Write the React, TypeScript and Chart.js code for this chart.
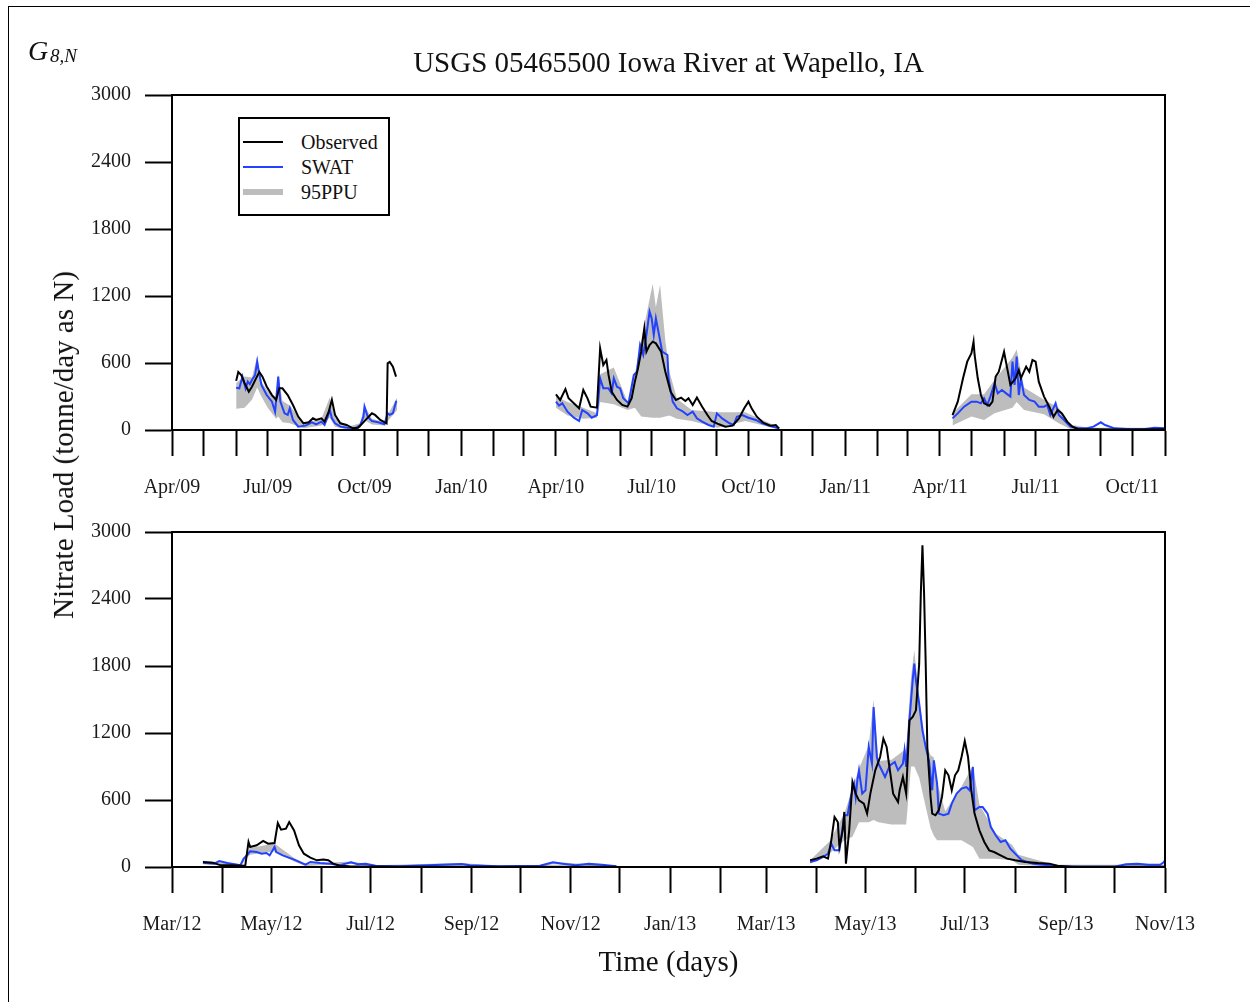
import React, { useEffect, useRef } from 'react';
import { Chart, registerables } from 'chart.js';

Chart.register(...registerables);

const SERIF = "'Liberation Serif', 'Times New Roman', serif";

const TITLE = 'USGS 05465500 Iowa River at Wapello, IA';
const Y_TITLE = 'Nitrate Load (tonne/day as N)';
const X_TITLE = 'Time (days)';
const LEGEND_LABELS = ['Observed', 'SWAT', '95PPU'];

const yTicks = [0, 600, 1200, 1800, 2400, 3000];

const topStart = '2009-04-01';
const topEnd = '2011-11-01';
const bottomStart = '2012-03-01';
const bottomEnd = '2013-11-01';

const topTickLabels = ['Apr/09', 'Jul/09', 'Oct/09', 'Jan/10', 'Apr/10', 'Jul/10', 'Oct/10', 'Jan/11', 'Apr/11', 'Jul/11', 'Oct/11'];
const bottomTickLabels = ['Mar/12', 'May/12', 'Jul/12', 'Sep/12', 'Nov/12', 'Jan/13', 'Mar/13', 'May/13', 'Jul/13', 'Sep/13', 'Nov/13'];

type Pt = [string, number];
type Band = [string, number, number];

const observedTop: Pt[] = [
  ['2009-06-01', 440], ['2009-06-03', 520], ['2009-06-06', 490], ['2009-06-09', 420], ['2009-06-13', 343], ['2009-06-16', 388], ['2009-06-20', 465], ['2009-06-23', 520], ['2009-06-26', 478], ['2009-06-30', 390], ['2009-07-05', 313], ['2009-07-09', 270], ['2009-07-12', 373], ['2009-07-15', 373], ['2009-07-20', 313], ['2009-07-25', 224], ['2009-07-30', 120], ['2009-08-04', 60], ['2009-08-09', 69], ['2009-08-13', 105], ['2009-08-16', 90], ['2009-08-21', 105], ['2009-08-24', 75], ['2009-08-28', 164], ['2009-08-31', 270], ['2009-09-03', 135], ['2009-09-08', 60], ['2009-09-14', 45], ['2009-09-20', 15], ['2009-09-25', 20], ['2009-10-01', 80], ['2009-10-08', 150], ['2009-10-11', 135], ['2009-10-16', 90], ['2009-10-22', 60], ['2009-10-23', 597], ['2009-10-25', 610], ['2009-10-28', 567], ['2009-10-31', 478],
  ['2010-04-01', 319], ['2010-04-05', 269], ['2010-04-10', 367], ['2010-04-13', 284], ['2010-04-18', 239], ['2010-04-23', 194], ['2010-04-27', 358], ['2010-05-01', 284], ['2010-05-04', 209], ['2010-05-10', 200], ['2010-05-13', 731], ['2010-05-16', 582], ['2010-05-19', 627], ['2010-05-21', 493], ['2010-05-24', 343], ['2010-05-29', 269], ['2010-06-03', 224], ['2010-06-08', 209], ['2010-06-12', 284], ['2010-06-15', 433], ['2010-06-18', 552], ['2010-06-21', 701], ['2010-06-24', 910], ['2010-06-26', 701], ['2010-06-29', 761], ['2010-07-02', 791], ['2010-07-05', 776], ['2010-07-10', 701], ['2010-07-14', 522], ['2010-07-19', 343], ['2010-07-24', 269], ['2010-07-29', 290], ['2010-08-02', 260], ['2010-08-05', 284], ['2010-08-09', 224], ['2010-08-13', 290], ['2010-08-18', 209], ['2010-08-23', 134], ['2010-08-27', 81], ['2010-09-03', 51], ['2010-09-09', 30], ['2010-09-16', 39], ['2010-09-22', 104], ['2010-09-27', 194], ['2010-10-01', 254], ['2010-10-04', 194], ['2010-10-09', 119], ['2010-10-15', 66], ['2010-10-22', 39], ['2010-10-27', 45], ['2010-10-30', 15],
  ['2011-04-13', 134], ['2011-04-18', 254], ['2011-04-23', 463], ['2011-04-27', 612], ['2011-05-01', 687], ['2011-05-03', 791], ['2011-05-04', 672], ['2011-05-07', 463], ['2011-05-10', 313], ['2011-05-13', 239], ['2011-05-18', 218], ['2011-05-21', 254], ['2011-05-24', 478], ['2011-05-27', 522], ['2011-06-01', 701], ['2011-06-04', 552], ['2011-06-07', 403], ['2011-06-12', 463], ['2011-06-15', 537], ['2011-06-17', 463], ['2011-06-22', 567], ['2011-06-25', 522], ['2011-06-28', 627], ['2011-07-01', 612], ['2011-07-04', 433], ['2011-07-09', 299], ['2011-07-14', 209], ['2011-07-18', 119], ['2011-07-22', 179], ['2011-07-26', 149], ['2011-07-31', 75], ['2011-08-05', 30], ['2011-08-10', 9], ['2011-09-15', 5], ['2011-10-31', 6],
];

const swatTop: Pt[] = [
  ['2009-06-01', 379], ['2009-06-04', 373], ['2009-06-07', 478], ['2009-06-10', 373], ['2009-06-12', 433], ['2009-06-14', 410], ['2009-06-16', 448], ['2009-06-19', 493], ['2009-06-21', 612], ['2009-06-22', 552], ['2009-06-25', 403], ['2009-06-30', 313], ['2009-07-05', 254], ['2009-07-08', 164], ['2009-07-11', 478], ['2009-07-13', 254], ['2009-07-17', 149], ['2009-07-20', 135], ['2009-07-22', 194], ['2009-07-25', 90], ['2009-07-30', 30], ['2009-08-06', 39], ['2009-08-12', 69], ['2009-08-16', 51], ['2009-08-21', 75], ['2009-08-24', 45], ['2009-08-27', 120], ['2009-08-29', 179], ['2009-08-31', 105], ['2009-09-03', 60], ['2009-09-08', 30], ['2009-09-15', 20], ['2009-09-22', 15], ['2009-09-27', 45], ['2009-09-30', 120], ['2009-10-01', 209], ['2009-10-04', 120], ['2009-10-08', 80], ['2009-10-14', 69], ['2009-10-20', 51], ['2009-10-23', 150], ['2009-10-25', 135], ['2009-10-28', 150], ['2009-10-31', 254], ['2009-11-01', 254],
  ['2010-04-01', 254], ['2010-04-04', 218], ['2010-04-07', 239], ['2010-04-12', 164], ['2010-04-18', 110], ['2010-04-23', 81], ['2010-04-26', 179], ['2010-05-01', 149], ['2010-05-05', 110], ['2010-05-10', 134], ['2010-05-13', 463], ['2010-05-16', 373], ['2010-05-21', 373], ['2010-05-24', 328], ['2010-05-26', 463], ['2010-05-29', 388], ['2010-06-01', 373], ['2010-06-04', 284], ['2010-06-09', 239], ['2010-06-14', 493], ['2010-06-17', 522], ['2010-06-20', 761], ['2010-06-23', 672], ['2010-06-26', 851], ['2010-06-29', 1060], ['2010-07-01', 1000], ['2010-07-03', 851], ['2010-07-05', 1000], ['2010-07-08', 851], ['2010-07-11', 701], ['2010-07-16', 672], ['2010-07-17', 463], ['2010-07-21', 254], ['2010-07-25', 194], ['2010-07-30', 170], ['2010-08-04', 134], ['2010-08-09', 164], ['2010-08-13', 104], ['2010-08-18', 75], ['2010-08-24', 45], ['2010-08-29', 30], ['2010-09-01', 149], ['2010-09-06', 104], ['2010-09-13', 60], ['2010-09-17', 45], ['2010-09-20', 119], ['2010-09-25', 134], ['2010-10-01', 110], ['2010-10-08', 90], ['2010-10-14', 60], ['2010-10-20', 39], ['2010-10-30', 15],
  ['2011-04-13', 104], ['2011-04-18', 149], ['2011-04-24', 209], ['2011-05-01', 254], ['2011-05-06', 254], ['2011-05-10', 239], ['2011-05-13', 284], ['2011-05-16', 224], ['2011-05-19', 299], ['2011-05-23', 418], ['2011-05-26', 328], ['2011-05-30', 358], ['2011-06-03', 328], ['2011-06-07', 299], ['2011-06-09', 612], ['2011-06-11', 403], ['2011-06-13', 657], ['2011-06-15', 313], ['2011-06-17', 463], ['2011-06-20', 313], ['2011-06-25', 269], ['2011-06-30', 254], ['2011-07-04', 209], ['2011-07-09', 209], ['2011-07-12', 224], ['2011-07-15', 134], ['2011-07-20', 239], ['2011-07-23', 134], ['2011-07-28', 90], ['2011-08-03', 30], ['2011-08-10', 15], ['2011-08-19', 15], ['2011-08-25', 30], ['2011-09-01', 69], ['2011-09-05', 45], ['2011-09-14', 15], ['2011-09-30', 6], ['2011-10-12', 6], ['2011-10-22', 21], ['2011-11-01', 15],
];

const ppuTop: Band[] = [
  ['2009-06-01', 190, 420], ['2009-06-09', 200, 480], ['2009-06-16', 270, 470], ['2009-06-21', 380, 660], ['2009-06-25', 300, 430], ['2009-07-01', 200, 350], ['2009-07-09', 100, 290], ['2009-07-11', 120, 500], ['2009-07-15', 70, 260], ['2009-07-22', 60, 220], ['2009-08-04', 15, 60], ['2009-08-21', 40, 100], ['2009-08-29', 110, 290], ['2009-09-03', 30, 110], ['2009-09-15', 5, 30], ['2009-09-27', 20, 60], ['2009-10-01', 90, 220], ['2009-10-08', 50, 100], ['2009-10-20', 40, 70], ['2009-10-25', 100, 170], ['2009-11-01', 180, 290],
  ['2010-04-01', 200, 300], ['2010-04-12', 130, 250], ['2010-04-27', 100, 200], ['2010-05-10', 110, 150], ['2010-05-13', 250, 500], ['2010-05-26', 230, 560], ['2010-06-08', 180, 250], ['2010-06-15', 200, 500], ['2010-06-21', 120, 800], ['2010-07-02', 110, 1310], ['2010-07-05', 110, 1100], ['2010-07-09', 110, 1300], ['2010-07-14', 120, 800], ['2010-07-18', 130, 520], ['2010-07-25', 100, 280], ['2010-08-08', 80, 180], ['2010-09-02', 20, 160], ['2010-09-28', 80, 160], ['2010-10-31', 5, 20],
  ['2011-04-13', 40, 150], ['2011-05-01', 120, 320], ['2011-05-13', 90, 320], ['2011-05-23', 150, 450], ['2011-06-09', 200, 650], ['2011-06-13', 250, 720], ['2011-06-20', 180, 380], ['2011-07-09', 140, 270], ['2011-07-23', 60, 200], ['2011-08-03', 10, 50], ['2011-08-19', 0, 20], ['2011-11-01', 0, 20],
];

const observedBottom: Pt[] = [
  ['2012-03-20', 45], ['2012-03-26', 39], ['2012-03-31', 15], ['2012-04-06', 15], ['2012-04-15', 12], ['2012-04-17', 224], ['2012-04-18', 179], ['2012-04-22', 194], ['2012-04-26', 233], ['2012-04-29', 209], ['2012-05-03', 215], ['2012-05-05', 394], ['2012-05-07', 334], ['2012-05-10', 343], ['2012-05-12', 403], ['2012-05-15', 328], ['2012-05-18', 194], ['2012-05-21', 119], ['2012-05-25', 84], ['2012-05-29', 60], ['2012-06-02', 66], ['2012-06-05', 60], ['2012-06-08', 30], ['2012-06-12', 12], ['2012-06-18', 6], ['2012-07-15', 3], ['2012-08-15', 3], ['2012-09-15', 3], ['2012-10-15', 3], ['2012-11-29', 3],
  ['2013-03-28', 60], ['2013-04-01', 75], ['2013-04-05', 96], ['2013-04-08', 75], ['2013-04-10', 239], ['2013-04-12', 448], ['2013-04-14', 403], ['2013-04-15', 179], ['2013-04-17', 328], ['2013-04-18', 493], ['2013-04-19', 30], ['2013-04-21', 328], ['2013-04-23', 761], ['2013-04-25', 657], ['2013-04-27', 597], ['2013-04-30', 567], ['2013-05-02', 478], ['2013-05-04', 657], ['2013-05-07', 866], ['2013-05-10', 985], ['2013-05-12', 1149], ['2013-05-14', 1075], ['2013-05-16', 866], ['2013-05-18', 657], ['2013-05-21', 582], ['2013-05-22', 687], ['2013-05-24', 806], ['2013-05-26', 657], ['2013-05-28', 1313], ['2013-05-30', 1343], ['2013-06-01', 1403], ['2013-06-03', 1821], ['2013-06-04', 2450], ['2013-06-05', 2880], ['2013-06-06', 2450], ['2013-06-07', 1821], ['2013-06-08', 1075], ['2013-06-10', 627], ['2013-06-11', 478], ['2013-06-13', 463], ['2013-06-15', 507], ['2013-06-17', 627], ['2013-06-19', 866], ['2013-06-21', 821], ['2013-06-23', 687], ['2013-06-25', 821], ['2013-06-27', 866], ['2013-06-29', 985], ['2013-07-01', 1128], ['2013-07-03', 985], ['2013-07-05', 687], ['2013-07-07', 478], ['2013-07-10', 328], ['2013-07-13', 224], ['2013-07-16', 149], ['2013-07-19', 134], ['2013-07-23', 104], ['2013-07-27', 75], ['2013-08-01', 60], ['2013-08-07', 45], ['2013-08-15', 35], ['2013-08-22', 30], ['2013-08-27', 12], ['2013-09-05', 3], ['2013-10-01', 2], ['2013-11-01', 3],
];

const swatBottom: Pt[] = [
  ['2012-03-20', 39], ['2012-03-27', 30], ['2012-03-30', 54], ['2012-04-04', 36], ['2012-04-12', 15], ['2012-04-14', 75], ['2012-04-16', 104], ['2012-04-18', 140], ['2012-04-22', 134], ['2012-04-25', 119], ['2012-04-28', 125], ['2012-04-30', 104], ['2012-05-03', 179], ['2012-05-04', 134], ['2012-05-08', 104], ['2012-05-15', 66], ['2012-05-22', 21], ['2012-05-25', 45], ['2012-05-31', 36], ['2012-06-06', 30], ['2012-06-12', 15], ['2012-06-19', 42], ['2012-06-23', 24], ['2012-06-28', 30], ['2012-07-04', 12], ['2012-07-19', 6], ['2012-08-26', 27], ['2012-08-31', 15], ['2012-09-18', 6], ['2012-10-13', 12], ['2012-10-21', 42], ['2012-10-27', 30], ['2012-11-04', 15], ['2012-11-12', 30], ['2012-11-20', 21], ['2012-11-29', 6],
  ['2013-03-28', 45], ['2013-04-01', 60], ['2013-04-05', 90], ['2013-04-08', 119], ['2013-04-10', 209], ['2013-04-12', 149], ['2013-04-15', 149], ['2013-04-18', 463], ['2013-04-20', 463], ['2013-04-22', 627], ['2013-04-24', 746], ['2013-04-25', 627], ['2013-04-26', 776], ['2013-04-27', 866], ['2013-04-29', 657], ['2013-05-01', 687], ['2013-05-03', 1075], ['2013-05-05', 925], ['2013-05-06', 1433], ['2013-05-08', 985], ['2013-05-09', 925], ['2013-05-11', 866], ['2013-05-13', 806], ['2013-05-16', 910], ['2013-05-19', 940], ['2013-05-21', 866], ['2013-05-24', 925], ['2013-05-25', 1045], ['2013-05-26', 896], ['2013-05-28', 1313], ['2013-05-30', 1672], ['2013-05-31', 1821], ['2013-06-01', 1672], ['2013-06-03', 1463], ['2013-06-05', 1224], ['2013-06-07', 1075], ['2013-06-09', 955], ['2013-06-11', 687], ['2013-06-12', 955], ['2013-06-14', 746], ['2013-06-15', 478], ['2013-06-18', 463], ['2013-06-21', 478], ['2013-06-23', 567], ['2013-06-26', 657], ['2013-06-29', 702], ['2013-07-02', 716], ['2013-07-04', 687], ['2013-07-06', 896], ['2013-07-07', 507], ['2013-07-10', 537], ['2013-07-12', 537], ['2013-07-15', 478], ['2013-07-17', 358], ['2013-07-20', 284], ['2013-07-23', 224], ['2013-07-26', 239], ['2013-07-29', 164], ['2013-08-02', 104], ['2013-08-05', 60], ['2013-08-12', 30], ['2013-08-20', 18], ['2013-08-26', 6], ['2013-09-10', 3], ['2013-10-01', 3], ['2013-10-08', 25], ['2013-10-15', 30], ['2013-10-22', 20], ['2013-10-29', 20], ['2013-10-31', 40], ['2013-11-01', 60],
];

const ppuBottom: Band[] = [
  ['2012-03-20', 25, 55], ['2012-04-12', 5, 25], ['2012-04-16', 80, 125], ['2012-04-18', 110, 170], ['2012-05-03', 140, 210], ['2012-05-15', 50, 80], ['2012-05-22', 10, 30], ['2012-06-19', 30, 50], ['2012-07-04', 5, 15], ['2012-08-26', 15, 35], ['2012-09-18', 0, 10], ['2012-10-13', 0, 15], ['2012-10-21', 25, 45], ['2012-11-29', 0, 10],
  ['2013-03-28', 30, 60], ['2013-04-09', 120, 230], ['2013-04-18', 240, 480], ['2013-04-23', 270, 700], ['2013-04-27', 400, 880], ['2013-05-03', 400, 1090], ['2013-05-06', 420, 1500], ['2013-05-09', 400, 950], ['2013-05-17', 380, 960], ['2013-05-26', 380, 1060], ['2013-05-29', 900, 1700], ['2013-05-31', 900, 1940], ['2013-06-03', 800, 1500], ['2013-06-07', 540, 1100], ['2013-06-10', 350, 1000], ['2013-06-12', 280, 980], ['2013-06-14', 240, 760], ['2013-06-19', 240, 500], ['2013-06-29', 240, 720], ['2013-07-06', 180, 910], ['2013-07-10', 75, 560], ['2013-07-20', 75, 300], ['2013-07-30', 60, 200], ['2013-08-03', 20, 110], ['2013-08-25', 0, 20], ['2013-11-01', 0, 20],
];

const COLORS = { observed: '#000000', swat: '#2342ff', ppu: '#bdbdbd', text: '#1a1a1a' };

const DAY = 86400000;
const MONTHS = ['Jan', 'Feb', 'Mar', 'Apr', 'May', 'Jun', 'Jul', 'Aug', 'Sep', 'Oct', 'Nov', 'Dec'];
const dayOf = (start: string, d: string) => Math.round((Date.parse(d) - Date.parse(start)) / DAY);

function toPoints(start: string, pts: [string, number][], gap = 80) {
  const out: { x: number; y: number | null }[] = [];
  let prev: number | null = null;
  for (const [d, v] of pts) {
    const x = dayOf(start, d);
    if (prev !== null && x - prev > gap) out.push({ x: (x + prev) / 2, y: null });
    out.push({ x, y: v });
    prev = x;
  }
  return out;
}

function monthTicks(start: string, end: string, labels: string[]) {
  const s = Date.parse(start);
  const e = Date.parse(end);
  const d0 = new Date(s);
  let y = d0.getUTCFullYear();
  let m = d0.getUTCMonth();
  const ticks: { value: number; label: string }[] = [];
  while (Date.UTC(y, m, 1) <= e) {
    const v = Math.round((Date.UTC(y, m, 1) - s) / DAY);
    const lab = `${MONTHS[m]}/${String(y % 100).padStart(2, '0')}`;
    ticks.push({ value: v, label: labels.includes(lab) ? lab : '' });
    m++;
    if (m > 11) { m = 0; y++; }
  }
  return ticks;
}

const frame = {
  id: 'frame',
  afterDraw(chart: any) {
    const { ctx, chartArea: a } = chart;
    ctx.save();
    ctx.strokeStyle = '#000';
    ctx.lineWidth = 2;
    ctx.strokeRect(a.left, a.top, a.right - a.left, a.bottom - a.top);
    ctx.restore();
  },
};

interface PanelOpts {
  start: string;
  end: string;
  labels: string[];
  observed: Pt[];
  swat: Pt[];
  ppu: Band[];
  showTitle: boolean;
  showXTitle: boolean;
  padTop: number;
  xHeight: number;
}

function makePanel(canvas: HTMLCanvasElement, o: PanelOpts) {
  const total = dayOf(o.start, o.end);
  const ticks = monthTicks(o.start, o.end, o.labels);
  const labelMap = new Map<number, string>(ticks.map((t) => [t.value, t.label]));
  const low = toPoints(o.start, o.ppu.map((b) => [b[0], b[1]] as Pt));
  const high = toPoints(o.start, o.ppu.map((b) => [b[0], b[2]] as Pt));
  const tickFont = { family: SERIF, size: 20 };
  return new Chart(canvas, {
    type: 'line',
    data: {
      datasets: [
        { label: '95PPU low', data: low, borderColor: 'rgba(0,0,0,0)', borderWidth: 1, pointRadius: 0, fill: false, order: 3, tension: 0 },
        { label: '95PPU', data: high, borderColor: 'rgba(0,0,0,0)', borderWidth: 1, backgroundColor: COLORS.ppu, pointRadius: 0, fill: '-1', order: 2, tension: 0 },
        { label: 'SWAT', data: toPoints(o.start, o.swat), borderColor: COLORS.swat, borderWidth: 2, pointRadius: 0, fill: false, order: 1, tension: 0 },
        { label: 'Observed', data: toPoints(o.start, o.observed), borderColor: COLORS.observed, borderWidth: 2, pointRadius: 0, fill: false, order: 0, tension: 0 },
      ],
    } as any,
    options: {
      animation: false,
      responsive: false,
      events: [],
      spanGaps: false,
      layout: { padding: { top: o.padTop, right: 85, left: 0, bottom: 0 } },
      plugins: {
        legend: { display: false },
        tooltip: { enabled: false },
        title: {
          display: o.showTitle,
          text: TITLE,
          fullSize: false,
          color: '#111',
          font: { family: SERIF, size: 29, weight: 'normal', lineHeight: 1.2 },
          padding: { top: 46.6, bottom: 13.6 },
        },
      },
      scales: {
        x: {
          type: 'linear',
          min: 0,
          max: total,
          afterBuildTicks: (s: any) => { s.ticks = ticks.map((t) => ({ value: t.value })); },
          afterFit: (s: any) => { s.height = o.xHeight; },
          ticks: {
            autoSkip: false,
            maxRotation: 0,
            minRotation: 0,
            padding: 20,
            color: COLORS.text,
            font: tickFont,
            callback: (v: any) => labelMap.get(Math.round(Number(v))) ?? '',
          },
          grid: { drawOnChartArea: false, drawTicks: true, tickLength: 26, tickWidth: 2, tickColor: '#000' },
          border: { display: true, color: '#000', width: 2 },
          title: {
            display: o.showXTitle,
            text: X_TITLE,
            color: '#111',
            font: { family: SERIF, size: 29, weight: 'normal', lineHeight: 1.2 },
            padding: { top: 0, bottom: 21.6 },
          },
        },
        y: {
          min: 0,
          max: 3000,
          afterBuildTicks: (s: any) => { s.ticks = yTicks.map((v) => ({ value: v })); },
          afterFit: (s: any) => { s.width = 172; },
          ticks: { padding: 14, color: COLORS.text, font: tickFont, callback: (v: any) => String(v) },
          grid: { drawOnChartArea: false, drawTicks: true, tickLength: 27, tickWidth: 2, tickColor: '#000' },
          border: { display: true, color: '#000', width: 2 },
        },
      },
    } as any,
    plugins: [frame],
  });
}

export default function App() {
  const topRef = useRef<HTMLCanvasElement>(null);
  const botRef = useRef<HTMLCanvasElement>(null);

  useEffect(() => {
    const c1 = makePanel(topRef.current!, {
      start: topStart, end: topEnd, labels: topTickLabels,
      observed: observedTop, swat: swatTop, ppu: ppuTop,
      showTitle: true, showXTitle: false, padTop: 0, xHeight: 75,
    });
    const c2 = makePanel(botRef.current!, {
      start: bottomStart, end: bottomEnd, labels: bottomTickLabels,
      observed: observedBottom, swat: swatBottom, ppu: ppuBottom,
      showTitle: false, showXTitle: true, padTop: 27, xHeight: 135,
    });
    return () => { c1.destroy(); c2.destroy(); };
  }, []);

  const legendRows = [
    { label: LEGEND_LABELS[0], color: COLORS.observed, width: 2 },
    { label: LEGEND_LABELS[1], color: COLORS.swat, width: 2 },
    { label: LEGEND_LABELS[2], color: COLORS.ppu, width: 6 },
  ];

  return (
    <div style={{ position: 'absolute', left: 0, top: 0, width: 1250, height: 1002, background: '#fff', overflow: 'hidden', fontFamily: SERIF, color: '#111' }}>
      <div style={{ position: 'absolute', left: 8, top: 6, width: 1300, height: 1100, borderLeft: '1px solid #000', borderTop: '1px solid #000' }} />
      <canvas ref={topRef} width={1250} height={505} style={{ position: 'absolute', left: 0, top: 0, width: 1250, height: 505 }} />
      <canvas ref={botRef} width={1250} height={497} style={{ position: 'absolute', left: 0, top: 505, width: 1250, height: 497 }} />

      <span style={{ position: 'absolute', left: 28, top: 36.5, fontSize: 28, lineHeight: '28px', fontStyle: 'italic', whiteSpace: 'nowrap' }}>G</span>
      <span style={{ position: 'absolute', left: 50, top: 46, fontSize: 19, lineHeight: '19px', fontStyle: 'italic', whiteSpace: 'nowrap' }}>8,N</span>

      <div style={{ position: 'absolute', left: 63, top: 445, transform: 'translate(-50%, -50%) rotate(-90deg)', fontSize: 29, lineHeight: '34px', whiteSpace: 'nowrap' }}>{Y_TITLE}</div>

      <div style={{ position: 'absolute', left: 238, top: 117, width: 148, height: 95, border: '2px solid #000', background: '#fff' }}>
        {legendRows.map((r, i) => (
          <div key={r.label}>
            <div style={{ position: 'absolute', left: 3, top: 23 + i * 25 - r.width / 2, width: 40, height: r.width, background: r.color }} />
            <div style={{ position: 'absolute', left: 61, top: 23 + i * 25 - 12, height: 24, lineHeight: '24px', fontSize: 20, whiteSpace: 'nowrap', color: '#111' }}>{r.label}</div>
          </div>
        ))}
      </div>
    </div>
  );
}
